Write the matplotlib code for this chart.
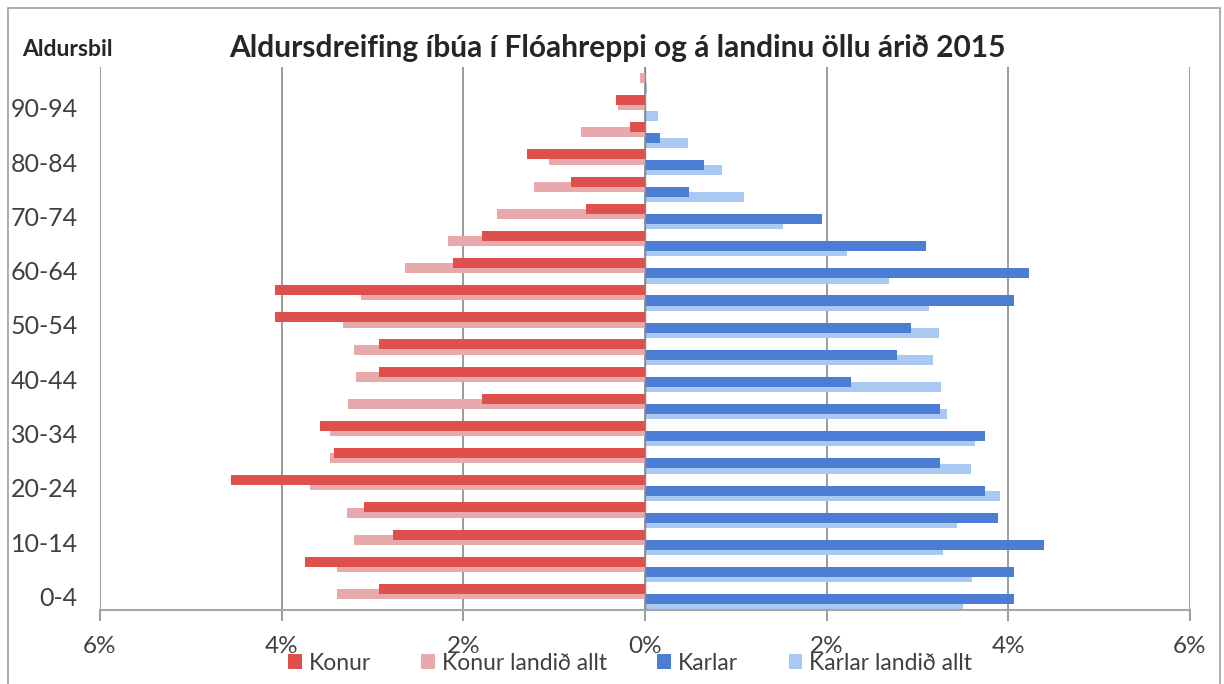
import matplotlib
matplotlib.use("Agg")
import matplotlib.pyplot as plt
from matplotlib.patches import Rectangle
from matplotlib.ticker import FuncFormatter
import numpy as np

categories = ["0-4", "5-9", "10-14", "15-19", "20-24", "25-29", "30-34", "35-39",
              "40-44", "45-49", "50-54", "55-59", "60-64", "65-69", "70-74",
              "75-79", "80-84", "85-89", "90-94", "95+"]

konur = [2.93, 3.74, 2.77, 3.09, 4.56, 3.42, 3.58, 1.79, 2.93, 2.93, 4.07, 4.07,
         2.11, 1.79, 0.65, 0.81, 1.30, 0.16, 0.32, 0.0]
konur_land = [3.39, 3.39, 3.20, 3.28, 3.69, 3.47, 3.47, 3.27, 3.18, 3.20, 3.32, 3.13,
              2.64, 2.17, 1.63, 1.22, 1.06, 0.71, 0.30, 0.06]
karlar = [4.06, 4.06, 4.39, 3.89, 3.74, 3.25, 3.74, 3.25, 2.27, 2.77, 2.93, 4.06,
          4.23, 3.09, 1.95, 0.48, 0.65, 0.16, 0.0, 0.0]
karlar_land = [3.50, 3.60, 3.28, 3.43, 3.91, 3.59, 3.63, 3.33, 3.26, 3.17, 3.24, 3.13,
               2.69, 2.22, 1.52, 1.09, 0.85, 0.47, 0.14, 0.02]

series_names = ["Konur", "Konur landið allt", "Karlar", "Karlar landið allt"]
colors = ["#DF504D", "#E8A9AC", "#4A7DD3", "#A9C8F2"]
xticks = [-6, -4, -2, 0, 2, 4, 6]

plt.rcParams['font.family'] = ['Lato', 'DejaVu Sans']

fig = plt.figure(figsize=(12.24, 6.84), dpi=100)
ax = fig.add_axes([100/1224, 1 - 610/684, 1090/1224, 543/684])

y = np.arange(len(categories))
h = 0.37
ax.barh(y + 0.09, -np.array(konur_land), height=h, color=colors[1], zorder=2, label=series_names[1])
ax.barh(y + 0.28, -np.array(konur), height=h, color=colors[0], zorder=3, label=series_names[0])
ax.barh(y - 0.29, karlar_land, height=h, color=colors[3], zorder=2, label=series_names[3])
ax.barh(y - 0.10, karlar, height=h, color=colors[2], zorder=3, label=series_names[2])

ax.set_xlim(-6, 6)
ax.set_ylim(-0.5, len(categories) - 0.5)
ax.set_xticks(xticks)
ax.xaxis.set_major_formatter(FuncFormatter(lambda v, p: f"{abs(v):.0f}%"))
ax.set_yticks(y)
ax.set_yticklabels([c if i % 2 == 0 else "" for i, c in enumerate(categories)])

ax.grid(axis='x', color='#8a8a8a', linewidth=1.2, zorder=0)
ax.set_axisbelow(True)
for s in ['top', 'right', 'left']:
    ax.spines[s].set_visible(False)
ax.spines['bottom'].set_color('#a6a6a6')
ax.spines['bottom'].set_linewidth(1.5)
ax.axvline(0, color='#8a8a8a', linewidth=1.0, zorder=4)

ax.tick_params(axis='x', direction='out', length=8, width=1.2, color='#8a8a8a',
               labelsize=17.5, labelcolor='#404040', pad=11)
ax.tick_params(axis='y', length=0, labelsize=18, labelcolor='#404040', pad=16)

fig.text(617/1224, 1 - 48/684, "Aldursdreifing íbúa í Flóahreppi og á landinu öllu árið 2015",
         ha='center', va='center', fontsize=21.5, fontweight='bold', color='#262626')
fig.text(22/1224, 1 - 49/684, "Aldursbil", ha='left', va='center', fontsize=16.5,
         fontweight='bold', color='#262626')

handles, labels = ax.get_legend_handles_labels()
order = [labels.index(n) for n in series_names]
leg = fig.legend([handles[i] for i in order], [labels[i] for i in order],
                 loc='center', bbox_to_anchor=(630/1224, 1 - 663/684), ncol=4,
                 frameon=False, fontsize=16.5, handlelength=0.6, handleheight=0.6,
                 handletextpad=0.3, columnspacing=2.2, labelcolor='#404040')

fig.add_artist(Rectangle((8/1224, -0.05), (1220 - 8)/1224, 1.05 - 8/684,
                         transform=fig.transFigure, fill=False, edgecolor='#a0a0a0',
                         linewidth=1.2))

fig.savefig("out.png", dpi=100)
